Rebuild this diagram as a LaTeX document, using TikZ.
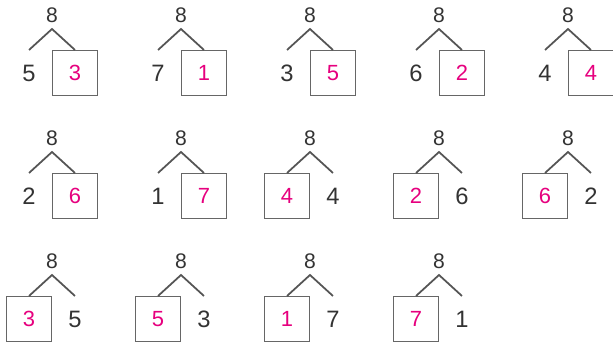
\documentclass[tikz,border=0pt]{standalone}
\usepackage{fontspec}
\setmainfont{Liberation Sans}
\usepackage{xcolor}
\usepackage{tikz}
\definecolor{ink}{HTML}{333333}
\definecolor{branchgray}{HTML}{555555}
\definecolor{boxgray}{HTML}{666666}
\definecolor{answer}{HTML}{E6007E}
\tikzset{
  whole/.style={
    font=\fontsize{12}{14}\selectfont,
    text=ink,
    inner sep=1pt
  },
  part/.style={
    font=\fontsize{13.5}{16}\selectfont,
    text=ink,
    inner sep=1pt
  },
  answer box/.style={
    draw=boxgray, line width=0.9pt,
    minimum size=0.9cm, inner sep=0pt,
    font=\fontsize{12.5}{15}\selectfont,
    text=answer
  },
  branch/.style={
    line width=1pt,
    color=branchgray
  }
}
% one number bond: name, top point, left, right, left style, right style
\newcommand{\bond}[6]{%
  \coordinate (#1) at #2;
  \node[whole] (#1-w) at ([yshift=0.28cm]#1) {8};
  \coordinate (#1-l) at ([shift={(-0.46,-0.42)}]#1);
  \coordinate (#1-r) at ([shift={(0.46,-0.42)}]#1);
  \node[#5] (#1-p) at ([yshift=-0.46cm]#1-l) {#3};
  \node[#6] (#1-q) at ([yshift=-0.46cm]#1-r) {#4};
  \draw[branch] (#1-l) -- (#1) -- (#1-r);
}

\begin{document}
\begin{tikzpicture}
  \useasboundingbox (0,0) rectangle (12.26,6.94);

  % Row 1
  \bond{b11}{(1.04,6.36)}{5}{3}{part}{answer box}
  \bond{b12}{(3.62,6.36)}{7}{1}{part}{answer box}
  \bond{b13}{(6.20,6.36)}{3}{5}{part}{answer box}
  \bond{b14}{(8.78,6.36)}{6}{2}{part}{answer box}
  \bond{b15}{(11.36,6.36)}{4}{4}{part}{answer box}

  % Row 2
  \bond{b21}{(1.04,3.90)}{2}{6}{part}{answer box}
  \bond{b22}{(3.62,3.90)}{1}{7}{part}{answer box}
  \bond{b23}{(6.20,3.90)}{4}{4}{answer box}{part}
  \bond{b24}{(8.78,3.90)}{2}{6}{answer box}{part}
  \bond{b25}{(11.36,3.90)}{6}{2}{answer box}{part}

  % Row 3
  \bond{b31}{(1.04,1.44)}{3}{5}{answer box}{part}
  \bond{b32}{(3.62,1.44)}{5}{3}{answer box}{part}
  \bond{b33}{(6.20,1.44)}{1}{7}{answer box}{part}
  \bond{b34}{(8.78,1.44)}{7}{1}{answer box}{part}
\end{tikzpicture}
\end{document}
